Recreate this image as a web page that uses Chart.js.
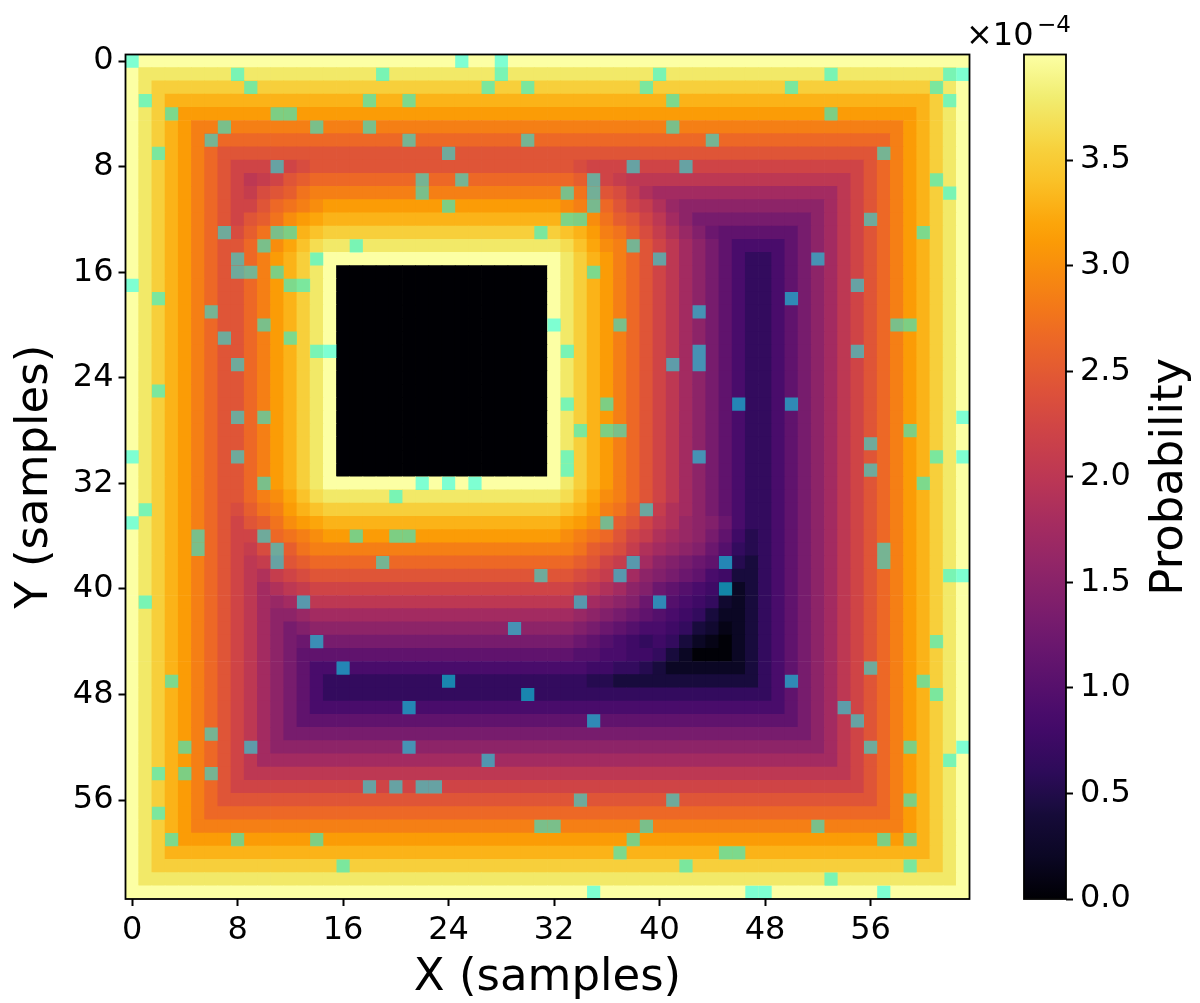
<!DOCTYPE html>
<html>
<head>
<meta charset="utf-8">
<title>Probability map</title>
<script src="https://cdn.jsdelivr.net/npm/chart.js@4/dist/chart.umd.min.js"></script>
<style>
    html, body { margin: 0; padding: 0; background: #fff; }
    canvas { position: absolute; top: 0; }
    #mapChart { left: 0; }
    #barChart { left: 960px; }
</style>
</head>
<body>
<canvas id="barChart" width="240" height="1003"></canvas>
<canvas id="mapChart" width="985" height="1003"></canvas>
<script>
// probability (x 1e-4) per level key
const levelKeys = "0123456789abcdefghijklmnopqrstuvwxyzAB";
const levelValues = [4.00, 3.88, 3.76, 3.65, 3.54, 3.42, 3.30, 3.21, 3.12, 2.99,
    2.86, 2.76, 2.66, 2.55, 2.44, 2.33, 2.22, 2.11, 2.01, 1.88,
    1.76, 1.65, 1.54, 1.43, 1.32, 1.21, 1.10, 0.99, 0.88, 0.77,
    0.66, 0.54, 0.42, 0.31, 0.20, 0.11, 0.02, 0];

// one string per image row, one key per column (spaces only for reading)
const cellRows = [
    "0000000000000000 0000000000000000 0000000000000000 0000000000000000",
    "0222222222222222 2222222222222222 2222222222222222 2222222222222220",
    "0244444444444444 4444444444444444 4444444444444444 4444444444444420",
    "0246666666666666 6666666666666666 6666666666666666 6666666666666420",
    "0246888888888888 8888888888888888 8888888888888888 8888888888886420",
    "02468aaaaaaaaaaa aaaaaaaaaaaaaaaa aaaaaaaaaaaaaaaa aaaaaaaaaaa86420",
    "02468acccccccccc cccccccccccccccc cccccccccccccccc cccccccccca86420",
    "02468aceeeeeeeee eeeeeeeeeeeeeeee eeeeeeeeeeeeeeee eeeeeeeeeca86420",
    "02468acegggggfee eeeeeeeeeeeeeeee eefggggggggggggg ggggggggeca86420",
    "02468acegihgedcc cccccccccccccccc ccdeghiiiiiiiiii iiiiiiigeca86420",
    "02468aceghfedbaa aaaaaaaaaaaaaaaa aabdefhjkkkkkkkk kkkkkkigeca86420",
    "02468aceggecba98 8888888888888888 89abceghjlmmmmmm mmmmmkigeca86420",
    "02468acegedb9876 6666666666666666 6789bdegikmooooo oooomkigeca86420",
    "02468acefdba8654 4444444444444444 4568abdfhjlnpqqq qqqomkigeca86420",
    "02468aceeca97532 2222222222222222 23579acegikmoqss ssqomkigeca86420",
    "02468aceeca86420 0000000000000000 02468acegikmoqsu usqomkigeca86420",
    "02468aceeca86420 BBBBBBBBBBBBBBBB 02468acegikmoqsu usqomkigeca86420",
    "02468aceeca86420 BBBBBBBBBBBBBBBB 02468acegikmoqsu usqomkigeca86420",
    "02468aceeca86420 BBBBBBBBBBBBBBBB 02468acegikmoqsu usqomkigeca86420",
    "02468aceeca86420 BBBBBBBBBBBBBBBB 02468acegikmoqsu usqomkigeca86420",
    "02468aceeca86420 BBBBBBBBBBBBBBBB 02468acegikmoqsu usqomkigeca86420",
    "02468aceeca86420 BBBBBBBBBBBBBBBB 02468acegikmoqsu usqomkigeca86420",
    "02468aceeca86420 BBBBBBBBBBBBBBBB 02468acegikmoqsu usqomkigeca86420",
    "02468aceeca86420 BBBBBBBBBBBBBBBB 02468acegikmoqsu usqomkigeca86420",
    "02468aceeca86420 BBBBBBBBBBBBBBBB 02468acegikmoqsu usqomkigeca86420",
    "02468aceeca86420 BBBBBBBBBBBBBBBB 02468acegikmoqsu usqomkigeca86420",
    "02468aceeca86420 BBBBBBBBBBBBBBBB 02468acegikmoqsu usqomkigeca86420",
    "02468aceeca86420 BBBBBBBBBBBBBBBB 02468acegikmoqsu usqomkigeca86420",
    "02468aceeca86420 BBBBBBBBBBBBBBBB 02468acegikmoqsu usqomkigeca86420",
    "02468aceeca86420 BBBBBBBBBBBBBBBB 02468acegikmoqsu usqomkigeca86420",
    "02468aceeca86420 BBBBBBBBBBBBBBBB 02468acegikmoqsu usqomkigeca86420",
    "02468aceeca86420 BBBBBBBBBBBBBBBB 02468acegikmoqsu usqomkigeca86420",
    "02468aceeca86420 0000000000000000 02468acegikmoqsu usqomkigeca86420",
    "02468aceeca97532 2222222222222222 23579acegikmoqsu usqomkigeca86420",
    "02468acefdba8654 4444444444444444 4568abdfhjkmoqsu usqomkigeca86420",
    "02468acegedb9876 6666666666666666 6789bdegijlmnpsu usqomkigeca86420",
    "02468aceggecba98 8888888888888888 89abceghjklmoqtv usqomkigeca86420",
    "02468aceghfedbaa aaaaaaaaaaaaaaaa aabdefhjklmnpruv usqomkigeca86420",
    "02468acegihgedcc cccccccccccccccc ccdeghjkmnopqsvw usqomkigeca86420",
    "02468acegijhgfee eeeeeeeeeeeeeeee eefghjkmnopqstww usqomkigeca86420",
    "02468acegikjihgg gggggggggggggggg gghijkmnpqrstvyw usqomkigeca86420",
    "02468acegiklkjii iiiiiiiiiiiiiiii iijklmnpqrstuxyw usqomkigeca86420",
    "02468acegikmmlkk kkkkkkkkkkkkkkkk kklmnopqrstuwyyw usqomkigeca86420",
    "02468acegikmonmm mmmmmmmmmmmmmmmm mmnopqrsstuwxzyw usqomkigeca86420",
    "02468acegikmopoo oooooooooooooooo oopqrstutuwyzAyw usqomkigeca86420",
    "02468acegikmoqqq qqqqqqqqqqqqqqqq qqrrssttuwyAAAyw usqomkigeca86420",
    "02468acegikmoqss ssssssssssssssss sssttuuvwyyyyyyw usqomkigeca86420",
    "02468acegikmoqsu uuuuuuuuuuuuuuuu uuuvvwwwwwwwwwww usqomkigeca86420",
    "02468acegikmoqsu uuuuuuuuuuuuuuuu uuuuuuuuuuuuuuuu usqomkigeca86420",
    "02468acegikmoqss ssssssssssssssss ssssssssssssssss ssqomkigeca86420",
    "02468acegikmoqqq qqqqqqqqqqqqqqqq qqqqqqqqqqqqqqqq qqqomkigeca86420",
    "02468acegikmoooo oooooooooooooooo oooooooooooooooo oooomkigeca86420",
    "02468acegikmmmmm mmmmmmmmmmmmmmmm mmmmmmmmmmmmmmmm mmmmmkigeca86420",
    "02468acegikkkkkk kkkkkkkkkkkkkkkk kkkkkkkkkkkkkkkk kkkkkkigeca86420",
    "02468acegiiiiiii iiiiiiiiiiiiiiii iiiiiiiiiiiiiiii iiiiiiigeca86420",
    "02468acegggggggg gggggggggggggggg gggggggggggggggg ggggggggeca86420",
    "02468aceeeeeeeee eeeeeeeeeeeeeeee eeeeeeeeeeeeeeee eeeeeeeeeca86420",
    "02468acccccccccc cccccccccccccccc cccccccccccccccc cccccccccca86420",
    "02468aaaaaaaaaaa aaaaaaaaaaaaaaaa aaaaaaaaaaaaaaaa aaaaaaaaaaa86420",
    "0246888888888888 8888888888888888 8888888888888888 8888888888886420",
    "0246666666666666 6666666666666666 6666666666666666 6666666666666420",
    "0244444444444444 4444444444444444 4444444444444444 4444444444444420",
    "0222222222222222 2222222222222222 2222222222222222 2222222222222220",
    "0000000000000000 0000000000000000 0000000000000000 0000000000000000"
];

// marked cells: the columns marked in each image row
const maskRows = [
    [0, 25, 28], [8, 19, 28, 40, 53, 62, 63], [9, 27, 30, 39, 50, 61], [1, 18, 21, 41, 62],
    [3, 11, 12, 53], [7, 14, 18, 41], [6, 21, 30, 44], [2, 24, 57],
    [11, 38, 42], [22, 25, 35, 61], [22, 33, 35, 62], [24, 35],
    [33, 34, 56], [7, 11, 12, 31, 60], [10, 17, 38], [8, 14, 40, 52],
    [8, 9, 11, 35], [0, 12, 13, 55], [2, 50], [6, 43],
    [10, 32, 37, 58, 59], [7, 12], [14, 15, 33, 43, 55], [8, 41, 43],
    [], [2], [33, 36, 46, 50], [8, 10, 63],
    [34, 36, 37, 59], [56], [0, 8, 33, 43, 61, 63], [33, 56],
    [10, 22, 24, 26, 60], [20], [1, 39], [0, 36],
    [5, 10, 17, 20, 21], [5, 11, 57], [11, 19, 38, 45, 57], [31, 37, 62, 63],
    [45], [1, 13, 34, 40], [], [29],
    [14, 61], [], [16, 56], [3, 24, 50, 60],
    [30, 61], [21, 54], [35, 55], [6],
    [4, 9, 21, 56, 59, 63], [27, 62], [2, 4, 6], [18, 20, 22, 23],
    [34, 41, 59], [2], [31, 32, 39, 52], [3, 8, 14, 38, 57, 59],
    [37, 45, 46], [16, 42, 59], [53], [35, 47, 48, 57]
];

const axisTicks = [0, 8, 16, 24, 32, 40, 48, 56];
const barTicks = [0, 0.5, 1, 1.5, 2, 2.5, 3, 3.5];
const maxProb = 4.0;

// inferno colormap samples
const infernoPos = [0, 0.05, 0.1, 0.111, 0.15, 0.2, 0.222, 0.3, 0.333, 0.4, 0.444, 0.5, 0.556, 0.6, 0.667, 0.7, 0.778, 0.8, 0.85, 0.889, 0.9, 0.95, 1];
const infernoRgb = [
    [0, 0, 4], [11, 7, 36], [22, 11, 57], [27, 12, 65], [45, 11, 89], [66, 10, 104], [74, 12, 107],
    [106, 23, 110], [120, 28, 109], [147, 38, 103], [165, 44, 96], [188, 55, 84], [207, 68, 70],
    [221, 81, 58], [237, 105, 37], [243, 120, 25], [251, 155, 6], [252, 165, 10], [250, 193, 39],
    [247, 209, 61], [246, 215, 70], [241, 237, 113], [252, 255, 164]
];

function colorFor(v) {
    let t = Math.min(Math.max(v / maxProb, 0), 1);
    let i = 0;
    while (i < infernoPos.length - 2 && t > infernoPos[i + 1]) i++;
    let f = (t - infernoPos[i]) / (infernoPos[i + 1] - infernoPos[i]);
    let c = infernoRgb[i].map((a, k) => Math.round(a + (infernoRgb[i + 1][k] - a) * f));
    return "rgb(" + c.join(",") + ")";
}

let cells = [];
cellRows.forEach((row, y) => {
    row.replace(/ /g, "").split("").forEach((key, x) => {
        cells.push({ x: x, y: y, v: levelValues[levelKeys.indexOf(key)] });
    });
});

let marks = [];
maskRows.forEach((cols, y) => {
    cols.forEach(x => marks.push({ x: x, y: y }));
});

const tickFont = { family: "'DejaVu Sans'", size: 32 };
const titleFont = { family: "'DejaVu Sans'", size: 45 };

// rect point half side is radius * cos(45)
function cellRadius(chart, extra) {
    return chart.scales.x.width / 64 / 2 / Math.SQRT1_2 + extra;
}

const frame = {
    id: "frame",
    afterDraw(chart) {
        let a = chart.chartArea;
        let c = chart.ctx;
        c.save();
        c.strokeStyle = "#000";
        c.lineWidth = 1.8;
        c.strokeRect(a.left, a.top, a.right - a.left, a.bottom - a.top);
        c.restore();
    }
};

function axisOptions(label, reverse, titlePadding) {
    return {
        type: "linear",
        min: -0.5,
        max: 63.5,
        reverse: reverse,
        afterBuildTicks: s => { s.ticks = axisTicks.map(v => ({ value: v })); },
        ticks: { font: tickFont, color: "#000", autoSkip: false, maxRotation: 0, padding: 5, callback: v => String(v) },
        grid: { drawOnChartArea: false, drawTicks: true, tickLength: 7, tickWidth: 2, tickColor: "#000" },
        border: { display: false },
        title: { display: true, text: label, font: titleFont, color: "#000", padding: titlePadding }
    };
}

let xAxis = axisOptions("X (samples)", false, { top: 0, bottom: -2 });
xAxis.afterFit = s => { s.height = 104; };
let yAxis = axisOptions("Y (samples)", true, { top: 8, bottom: 0 });
yAxis.afterFit = s => { s.width = 125.5; };

new Chart(document.getElementById("mapChart"), {
    type: "scatter",
    data: {
        datasets: [
            {
                data: marks,
                clip: 0,
                pointStyle: "rect",
                pointRadius: ctx => cellRadius(ctx.chart, 0),
                pointBorderWidth: 0,
                pointBackgroundColor: "rgba(0,255,255,0.5)"
            },
            {
                data: cells,
                clip: 0,
                pointStyle: "rect",
                pointRadius: ctx => cellRadius(ctx.chart, 0.5),
                pointBorderWidth: 0,
                pointBackgroundColor: ctx => colorFor(ctx.raw.v)
            }
        ]
    },
    options: {
        responsive: false,
        animation: false,
        devicePixelRatio: 1,
        events: [],
        layout: { padding: { left: 0, top: 54.5, right: 15.5, bottom: 0 } },
        plugins: { legend: { display: false }, tooltip: { enabled: false } },
        scales: { x: xAxis, y: yAxis }
    },
    plugins: [frame]
});

const barText = {
    id: "barText",
    afterDraw(chart) {
        let c = chart.ctx;
        let a = chart.chartArea;
        c.save();
        c.fillStyle = "#000";
        c.textBaseline = "alphabetic";
        c.font = "32px 'DejaVu Sans'";
        c.fillText("\u00d710", 6, 45);
        c.font = "23px 'DejaVu Sans'";
        c.fillText("\u22124", 77, 32);
        c.translate(a.right + 116, (a.top + a.bottom) / 2);
        c.rotate(-Math.PI / 2);
        c.textAlign = "center";
        c.font = titleFont.size + "px 'DejaVu Sans'";
        c.fillText("Probability", 0, 0);
        c.restore();
    }
};

function barFill(ctx) {
    let a = ctx.chart.chartArea;
    if (!a) return "#000";
    let g = ctx.chart.ctx.createLinearGradient(0, a.bottom, 0, a.top);
    infernoPos.forEach((p, i) => g.addColorStop(p, "rgb(" + infernoRgb[i].join(",") + ")"));
    return g;
}

new Chart(document.getElementById("barChart"), {
    type: "bar",
    data: {
        labels: ["Probability"],
        datasets: [{
            data: [[0, maxProb]],
            backgroundColor: barFill,
            borderWidth: 0,
            categoryPercentage: 1,
            barPercentage: 1
        }]
    },
    options: {
        responsive: false,
        animation: false,
        devicePixelRatio: 1,
        events: [],
        layout: { padding: { left: 64, top: 54.5, right: 14, bottom: 104 } },
        plugins: { legend: { display: false }, tooltip: { enabled: false } },
        scales: {
            x: { display: false },
            y: {
                position: "right",
                min: 0,
                max: maxProb,
                afterFit: s => { s.width = 120; },
                afterBuildTicks: s => { s.ticks = barTicks.map(v => ({ value: v })); },
                ticks: { font: tickFont, color: "#000", padding: 7, callback: v => v.toFixed(1) },
                grid: { drawOnChartArea: false, drawTicks: true, tickLength: 7, tickWidth: 2, tickColor: "#000" },
                border: { display: false }
            }
        }
    },
    plugins: [frame, barText]
});
</script>
</body>
</html>
